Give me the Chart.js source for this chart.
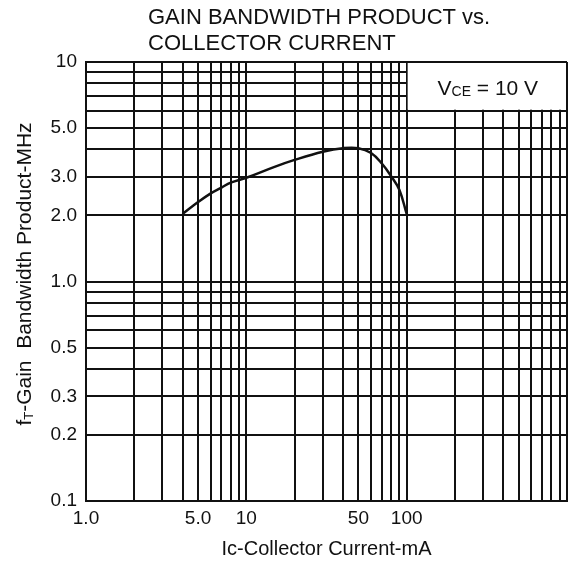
<!DOCTYPE html>
<html>
<head>
<meta charset="utf-8">
<script src="https://cdn.jsdelivr.net/npm/chart.js@4/dist/chart.umd.min.js"></script>
<style>
  html, body { margin: 0; padding: 0; background: #fff; }
  #wrap { width: 573px; height: 561px; }
</style>
</head>
<body>
<div id="wrap"><canvas id="gbwChart" width="573" height="561"></canvas></div>
<script>
// Gain bandwidth product vs collector current
const currentMa = [4, 5, 6, 7, 8, 10, 15, 20, 30, 40, 50, 60, 70, 80, 90, 100];
const gainMhz = [2.03, 2.30, 2.52, 2.68, 2.82, 2.97, 3.33, 3.58, 3.90, 4.05, 4.05, 3.85, 3.45, 3.02, 2.62, 2.03];

// labelled ticks
const xLabelValues = [1, 5, 10, 50, 100];
const xLabelTexts = ['1.0', '5.0', '10', '50', '100'];
const yLabelValues = [0.1, 0.2, 0.3, 0.5, 1, 2, 3, 5, 10];
const yLabelTexts = ['0.1', '0.2', '0.3', '0.5', '1.0', '2.0', '3.0', '5.0', '10'];

const titleLines = ['GAIN BANDWIDTH PRODUCT vs.', 'COLLECTOR CURRENT'];

// 1,2,...,9 per decade -> log paper grid
function decadeTicks(loExp, hiExp) {
    const out = [];
    for (let e = loExp; e < hiExp; e++) {
        for (let m = 1; m < 10; m++) out.push(+(m * Math.pow(10, e)).toPrecision(3));
    }
    out.push(Math.pow(10, hiExp));
    return out;
}
const xGrid = decadeTicks(0, 3);
const yGrid = decadeTicks(-1, 1);

function labelFor(value, values, texts) {
    const i = values.findIndex(v => Math.abs(v - value) < v * 1e-6);
    return i >= 0 ? texts[i] : '';
}

const FONT = "'Liberation Sans', Arial, sans-serif";
const INK = '#111';

// draws text pieces (some subscripted) centred on cx, baseline at by
function drawRich(ctx, parts, cx, by) {
    let w = 0;
    parts.forEach(p => { ctx.font = p.font; w += ctx.measureText(p.text).width; });
    let x = cx - w / 2;
    parts.forEach(p => {
        ctx.font = p.font;
        ctx.fillText(p.text, x, by + (p.dy || 0));
        x += ctx.measureText(p.text).width;
    });
}

const datasheetText = {
    id: 'datasheetText',
    beforeDatasetsDraw(chart) {
        // white box for the test condition, sits over the grid
        const {ctx, chartArea} = chart;
        const xs = chart.scales.x, ys = chart.scales.y;
        const l = xs.getPixelForValue(100), b = ys.getPixelForValue(6);
        ctx.save();
        ctx.fillStyle = '#fff';
        ctx.fillRect(l + 1, chartArea.top + 1, chartArea.right - l - 2, b - chartArea.top - 2);
        ctx.fillStyle = INK;
        ctx.textAlign = 'left';
        ctx.textBaseline = 'alphabetic';
        drawRich(ctx, [
            {text: 'V', font: '21px ' + FONT},
            {text: 'CE', font: '14px ' + FONT, dy: 1},
            {text: ' = 10 V', font: '21px ' + FONT}
        ], (l + chartArea.right) / 2 + 1, 95);
        ctx.restore();
    },
    afterDraw(chart) {
        const {ctx, chartArea} = chart;
        ctx.save();
        ctx.fillStyle = INK;
        ctx.textAlign = 'left';
        ctx.textBaseline = 'alphabetic';
        ctx.font = '22px ' + FONT;
        ctx.fillText(titleLines[0], 148, 24);
        ctx.fillText(titleLines[1], 148, 50);

        drawRich(ctx, [
            {text: 'I', font: '20px ' + FONT},
            {text: 'c', font: '20px ' + FONT},
            {text: '-Collector Current-mA', font: '20px ' + FONT}
        ], (chartArea.left + chartArea.right) / 2, 555);

        ctx.translate(31, 274);
        ctx.rotate(-Math.PI / 2);
        drawRich(ctx, [
            {text: 'f', font: '21px ' + FONT},
            {text: 'T', font: '13px ' + FONT, dy: 2},
            {text: '-Gain  Bandwidth Product-MHz', font: '21px ' + FONT}
        ], 0, 0);
        ctx.restore();
    }
};

new Chart(document.getElementById('gbwChart').getContext('2d'), {
    type: 'line',
    data: {
        datasets: [{
            data: currentMa.map((c, i) => ({x: c, y: gainMhz[i]})),
            borderColor: INK,
            borderWidth: 2.5,
            pointRadius: 0,
            tension: 0.4,
            fill: false
        }]
    },
    options: {
        responsive: false,
        animation: false,
        events: [],
        layout: { padding: { top: 62, right: 5, left: 0, bottom: 0 } },
        plugins: {
            legend: { display: false },
            tooltip: { enabled: false },
            title: { display: false }
        },
        scales: {
            x: {
                type: 'logarithmic',
                min: 1,
                max: 1000,
                afterBuildTicks: scale => { scale.ticks = xGrid.map(v => ({value: v})); },
                afterFit: scale => { scale.height = 60; },
                grid: { color: INK, lineWidth: 2, drawTicks: false },
                border: { color: INK, width: 2 },
                ticks: {
                    autoSkip: false,
                    maxRotation: 0,
                    padding: 6,
                    color: INK,
                    font: { family: FONT, size: 19 },
                    callback: value => labelFor(value, xLabelValues, xLabelTexts)
                }
            },
            y: {
                type: 'logarithmic',
                min: 0.1,
                max: 10,
                afterBuildTicks: scale => { scale.ticks = yGrid.map(v => ({value: v})); },
                afterFit: scale => { scale.width = 86; },
                grid: { color: INK, lineWidth: 2, drawTicks: false },
                border: { color: INK, width: 2 },
                ticks: {
                    autoSkip: false,
                    padding: 9,
                    color: INK,
                    font: { family: FONT, size: 19 },
                    callback: value => labelFor(value, yLabelValues, yLabelTexts)
                }
            }
        }
    },
    plugins: [datasheetText]
});
</script>
</body>
</html>
